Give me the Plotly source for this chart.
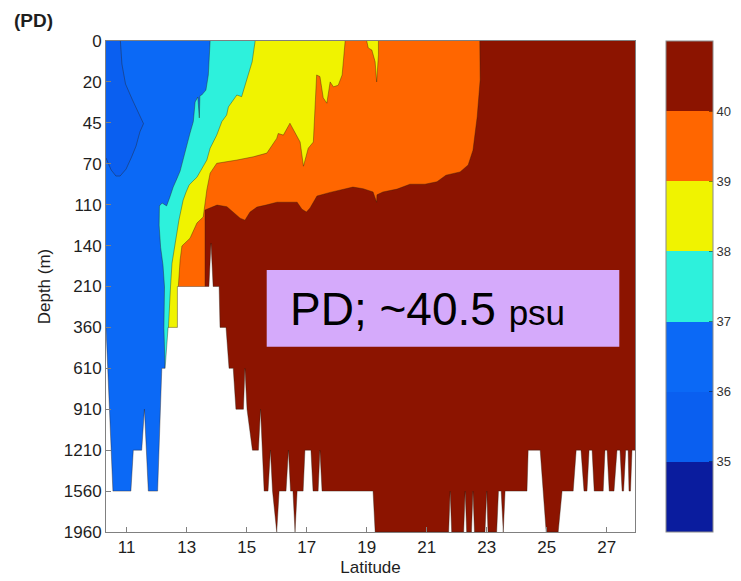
import plotly.graph_objects as go

# ---------------- axes / scale data ----------------
depth_labels = ["0", "20", "45", "70", "110", "140", "210", "360", "610", "910", "1210", "1560", "1960"]
depth_levels = list(range(len(depth_labels)))          # depth levels are equally spaced on the axis
lat_ticks = [11, 13, 15, 17, 19, 21, 23, 25, 27]
lat_range = [10.31, 27.94]
sal_ticks = [35, 36, 37, 38, 39, 40]
# colour bands: <35, 35-36, 36-37, 37-38, 38-39, 39-40, >40 psu
sal_band_colors = ["#0A1C9E", "#0A5FF0", "#0B69F6", "#2DF1DC", "#F0F300", "#FF6600", "#8C1400"]

# ---------------- isohalines (latitude, depth-level index) ----------------
c40_lat = [22.76, 22.78, 22.68, 22.54, 22.38, 22.11, 21.64, 21.34, 20.94, 20.44, 20.01, 19.54, 19.34,
           19.33, 19.21, 18.88, 18.54, 18.21, 17.78, 17.34, 17.11, 16.99, 16.84, 16.68, 16.24, 16.01,
           15.64, 15.34, 15.11, 14.94, 14.78, 14.34, 14.01, 13.61, 13.61]
c40_lvl = [0.0, 0.95, 1.86, 2.67, 3.03, 3.20, 3.28, 3.44, 3.50, 3.50, 3.62, 3.69, 3.76,
           3.94, 3.69, 3.61, 3.57, 3.62, 3.70, 3.79, 4.08, 4.18, 4.11, 3.94, 3.94, 3.94,
           4.01, 4.06, 4.18, 4.38, 4.33, 4.05, 4.01, 4.13, 6.01]

c39_lat = [18.28, 18.18, 18.05, 17.89, 17.78, 17.67, 17.55, 17.44, 17.33, 17.22, 17.05, 16.89, 16.78,
           16.44, 16.22, 16.05, 16.00, 15.67, 15.22, 14.67, 14.00, 13.78, 13.67, 13.55, 13.34, 13.11,
           12.84, 12.78, 12.72, 12.71]
c39_lvl = [0.0, 0.83, 1.08, 1.12, 1.00, 1.52, 1.39, 0.87, 0.83, 2.47, 2.62, 3.06, 2.47,
           2.01, 2.30, 2.26, 2.38, 2.74, 2.83, 2.91, 2.99, 3.23, 3.64, 4.30, 4.45, 4.82,
           5.01, 5.35, 6.01, 7.31]

c39_tongue_lat = [19.00, 19.05, 19.17, 19.28, 19.33, 19.39, 19.39]
c39_tongue_lvl = [0.0, 0.17, 0.22, 0.51, 1.00, 0.34, 0.0]

c38_lat = [15.28, 15.18, 15.01, 14.83, 14.67, 14.50, 14.39, 14.33, 14.17, 14.00, 13.89, 13.78, 13.67,
           13.48, 13.34, 13.21, 13.08, 12.98, 12.88, 12.74, 12.64, 12.51, 12.46, 12.39, 12.38]
c38_lvl = [0.0, 0.51, 0.95, 1.36, 1.32, 1.48, 1.61, 1.81, 1.97, 2.30, 2.46, 2.62, 2.91,
           3.15, 3.33, 3.42, 3.52, 3.69, 3.89, 4.38, 4.87, 5.43, 6.01, 7.02, 8.04]

c37_lat = [13.78, 13.72, 13.64, 13.50, 13.44, 13.42, 13.37, 13.28, 13.22, 13.11, 13.00, 12.89, 12.78,
           12.67, 12.55, 12.44, 12.33, 12.18, 12.09, 12.08, 12.13, 12.21, 12.26, 12.24, 12.28]
c37_lvl = [0.0, 0.83, 1.20, 1.32, 1.34, 1.88, 1.37, 1.49, 1.97, 2.25, 2.57, 2.89, 3.18,
           3.37, 3.57, 3.81, 4.03, 3.96, 4.03, 4.50, 5.04, 5.48, 6.01, 7.02, 8.04]

c36_lat = [10.79, 10.84, 10.96, 11.18, 11.38, 11.49, 11.56, 11.44, 11.31, 11.16, 10.98, 10.78,
           10.64, 10.48, 10.34, 10.31]
c36_lvl = [0.0, 0.56, 1.05, 1.42, 1.74, 1.91, 2.02, 2.22, 2.57, 2.84, 3.13, 3.30,
           3.30, 3.15, 2.93, 2.86]

# ---------------- sea floor (top of the no-data area) ----------------
floor_lat = [10.31, 10.54, 11.14, 11.22, 11.50, 11.59, 11.72, 12.03, 12.17, 12.28, 12.38, 12.69, 12.69,
             13.74, 13.81, 13.88, 14.08, 14.11, 14.31, 14.41, 14.55, 14.64, 14.89, 14.94, 15.01,
             15.19, 15.39, 15.46, 15.53, 15.58, 15.71, 15.79, 15.86, 16.00, 16.08, 16.31, 16.39,
             16.46, 16.54, 16.61, 16.68, 16.88, 16.94, 17.14, 17.21, 17.38, 17.44, 17.51, 19.21,
             19.28, 21.73, 21.78, 21.83, 22.23, 22.28, 22.33, 22.49, 22.54, 22.59, 22.94, 23.00,
             23.04, 23.33, 23.39, 23.48, 23.55, 23.61, 24.34, 24.38, 24.78, 24.98, 25.38, 25.51,
             25.88, 25.98, 26.14, 26.24, 26.34, 26.41, 26.51, 26.58, 26.88, 26.94, 27.01, 27.08,
             27.24, 27.34, 27.44, 27.51, 27.56, 27.63, 27.71, 27.74, 27.79, 27.84, 27.94]
floor_lvl = [7.0, 11.0, 11.0, 10.0, 10.0, 9.0, 11.0, 11.0, 8.0, 8.0, 7.0, 7.0, 6.0,
             6.0, 4.94, 6.0, 6.0, 7.0, 7.0, 8.0, 8.0, 9.0, 9.0, 8.0, 9.0,
             10.0, 10.0, 9.0, 10.0, 11.0, 11.0, 10.0, 11.0, 12.0, 11.0, 11.0, 10.0,
             11.0, 11.0, 12.0, 11.0, 11.0, 10.0, 10.0, 11.0, 11.0, 10.0, 11.0, 11.0,
             12.0, 12.0, 11.0, 12.0, 12.0, 11.0, 12.0, 12.0, 11.0, 12.0, 12.0, 11.0,
             12.0, 12.0, 11.0, 11.0, 12.0, 11.0, 11.0, 10.0, 10.0, 12.0, 12.0, 11.0,
             11.0, 10.0, 10.0, 11.0, 11.0, 10.0, 10.0, 11.0, 11.0, 10.0, 10.0, 11.0,
             11.0, 10.0, 10.0, 11.0, 11.0, 10.0, 10.0, 11.0, 11.0, 10.0, 10.0]

# ---------------- figure ----------------
fig = go.Figure()
X0, X1 = lat_range[0] - 0.5, lat_range[1] + 0.5
Y0, Y1 = depth_levels[0] - 0.6, depth_levels[-1] + 0.6
EDGE = "rgba(45,30,15,0.55)"


def add_poly(xs, ys, color, edge=True):
    fig.add_trace(go.Scatter(
        x=xs, y=ys, mode="lines", fill="toself", fillcolor=color,
        line=dict(color=EDGE if edge else color, width=0.7 if edge else 0),
        hoverinfo="skip", showlegend=False))


def region_left(lat, lvl, to_bottom=True):
    xs = [lat[0]] + list(lat)
    ys = [Y0] + list(lvl)
    if to_bottom:
        xs += [lat[-1], X0, X0]
        ys += [Y1, Y1, Y0]
    else:
        xs += [X0, X0]
        ys += [lvl[-1], Y0]
    return xs, ys


# >40 psu background of the whole section
add_poly([X0, X1, X1, X0, X0], [Y0, Y0, Y1, Y1, Y0], sal_band_colors[6], edge=False)
# 39-40
add_poly(*region_left(c40_lat, c40_lvl), sal_band_colors[5])
# 38-39
add_poly(*region_left(c39_lat, c39_lvl), sal_band_colors[4])
add_poly([c39_tongue_lat[0]] + c39_tongue_lat + [c39_tongue_lat[-1]],
         [Y0] + c39_tongue_lvl + [Y0], sal_band_colors[4])
# 37-38
add_poly(*region_left(c38_lat, c38_lvl), sal_band_colors[3])
# 36-37
add_poly(*region_left(c37_lat, c37_lvl), sal_band_colors[2])
# 35-36 pocket
add_poly(*region_left(c36_lat, c36_lvl, to_bottom=False), sal_band_colors[1])
# no-data area below the sea floor
add_poly([X0] + floor_lat + [X1, X1, X0, X0],
         [floor_lvl[0]] + floor_lvl + [floor_lvl[-1], Y1, Y1, floor_lvl[0]], "white")

# colour bar (discrete bands)
n = len(sal_band_colors)
cscale = []
for i, c in enumerate(sal_band_colors):
    cscale.append([i / n, c])
    cscale.append([(i + 1) / n, c])
fig.add_trace(go.Scatter(
    x=[lat_ticks[0]], y=[depth_levels[0]], mode="markers", hoverinfo="skip", showlegend=False,
    marker=dict(size=0.1, opacity=0, color=[sal_ticks[0]], cmin=sal_ticks[0] - 1, cmax=sal_ticks[-1] + 1,
                colorscale=cscale, showscale=True,
                colorbar=dict(x=1.0586, xanchor="left", xpad=0, y=0.5, yanchor="middle", ypad=0,
                              len=1, lenmode="fraction", thickness=47, thicknessmode="pixels",
                              tickvals=sal_ticks, ticks="inside", ticklen=4,
                              tickcolor="rgba(0,0,0,0.45)",
                              tickfont=dict(size=13, color="#333333"),
                              outlinecolor="#8a8a8a", outlinewidth=1))))

axis_common = dict(showline=True, linecolor="#808080", linewidth=1, mirror=True, ticks="inside",
                   ticklen=5, tickcolor="#808080", showgrid=False, zeroline=False,
                   tickfont=dict(size=17, color="#1e1e1e"))

fig.update_layout(
    width=741, height=581,
    margin=dict(l=106, r=106, t=41, b=49, autoexpand=False),
    plot_bgcolor="white", paper_bgcolor="white",
    font=dict(family="Liberation Sans, Arial, sans-serif", color="#1e1e1e"),
    xaxis=dict(range=lat_range, tickvals=lat_ticks,
               title=dict(text="Latitude", font=dict(size=17), standoff=4), **axis_common),
    yaxis=dict(range=[depth_levels[-1], depth_levels[0]], tickvals=depth_levels, ticktext=depth_labels,
               title=dict(text="Depth (m)", font=dict(size=17), standoff=8), **axis_common),
    shapes=[dict(type="rect", xref="paper", yref="paper", x0=0.3038, x1=0.9703, y0=0.3774, y1=0.5336,
                 fillcolor="#D5AAFB", line=dict(width=0), layer="above")],
    annotations=[
        dict(text="<b>(PD)</b>", xref="paper", yref="paper", x=-0.1777, y=1.067,
             xanchor="left", yanchor="top", showarrow=False, font=dict(size=19, color="#1e1e1e")),
        dict(text="PD; ~40.5 <span style='font-size:35px'>psu</span>", xref="paper", yref="paper",
             x=0.344, y=0.455, xanchor="left", yanchor="middle", showarrow=False,
             font=dict(size=46, color="black")),
    ],
)

fig.write_html("out.html")
